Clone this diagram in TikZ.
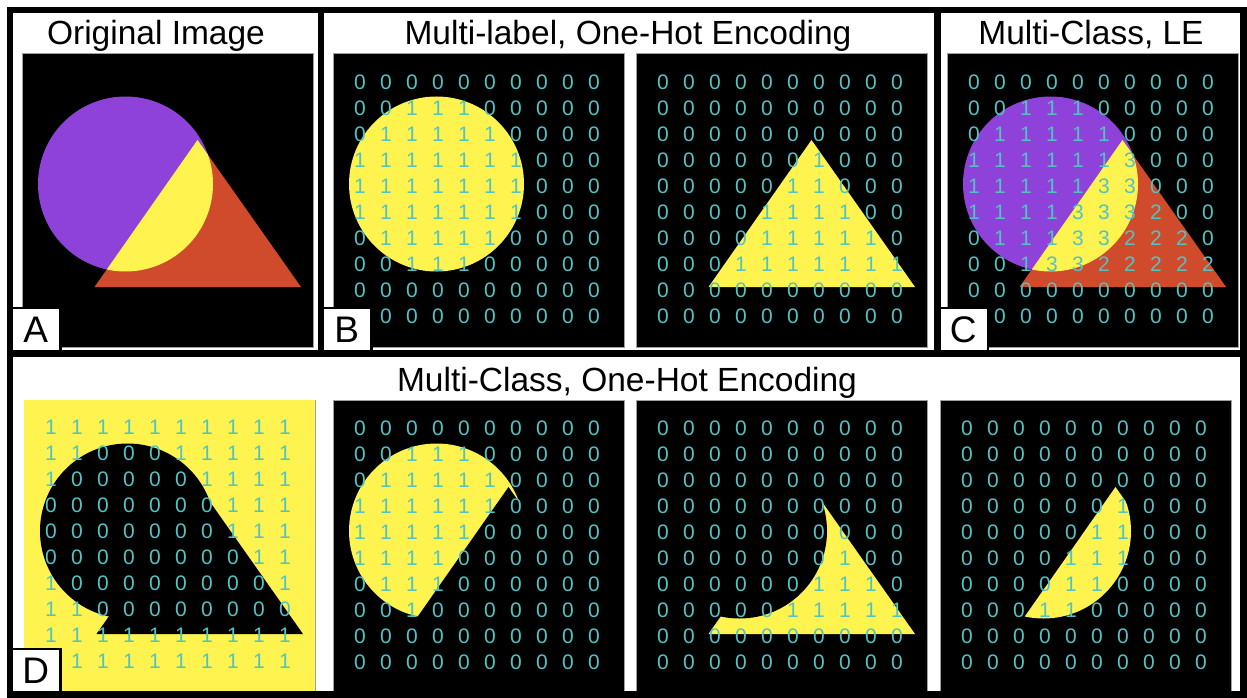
\documentclass[tikz,border=0pt]{standalone}
\usepackage{fontspec}
\setmainfont{Liberation Sans}
\usetikzlibrary{positioning}
\definecolor{maskyellow}{HTML}{FFF44F}
\definecolor{circpurple}{HTML}{8E42D9}
\definecolor{trired}{HTML}{CF4B2B}
\definecolor{digitteal}{HTML}{52C3C3}
\definecolor{edgegray}{HTML}{A0A0A0}

\tikzset{
  panelline/.style={line width=6.5pt},
  maskbox/.style={draw=edgegray, line width=1pt, fill=black, anchor=north west,
    inner sep=0pt, minimum width=291pt},
  heading/.style={font=\fontsize{33.5}{36}\selectfont, anchor=base},
  digit/.style={font=\fontsize{21}{21}\selectfont, text=digitteal, inner sep=0pt},
  tag/.style={draw, fill=white, line width=2.5pt, anchor=south west, inner sep=0pt,
    minimum width=49pt, minimum height=44.5pt, font=\fontsize{37}{37}\selectfont},
}

% circle and triangle, measured from the top-left corner of a mask
\newcommand{\fillcircle}[1]{\fill[#1] (103.5,131) circle[radius=87.5pt];}
\newcommand{\filltriangle}[1]{\fill[#1] (175.5,87) -- (279,234) -- (72.5,234) -- cycle;}
\newcommand{\clipcircle}{\clip (103.5,131) circle[radius=87.5pt];}

% 10x10 label values over a mask: #1 mask node, #2 first row offset, #3 rows
\newcommand{\digitgrid}[3]{%
  \foreach \row [count=\ri from 0] in {#3}
    \foreach \val [count=\ci from 0] in \row
      \node[digit] (#1-\ri-\ci) at ([shift={(27+26*\ci,#2+26*\ri)}]#1.north west) {\val};
}

\begin{document}
\begin{tikzpicture}[x=1pt, y=-1pt]
\useasboundingbox (0,0) rectangle (1247,698);
\fill[white] (0,0) rectangle (1247,698);

% headings
\node[heading] (headA) at (156,45) {Original Image};
\node[heading] (headB) at (628,45) {Multi-label, One-Hot Encoding};
\node[heading] (headC) at (1091,45) {Multi-Class, LE};
\node[heading] (headD) at (627,391) {Multi-Class, One-Hot Encoding};

% masks, top row
\node[maskbox, minimum height=294pt] (imgA)  at (22,53)  {};
\node[maskbox, minimum height=294pt] (imgB1) at (333,53) {};
\node[maskbox, minimum height=294pt] (imgB2) at (636,53) {};
\node[maskbox, minimum height=294pt] (imgC)  at (947,53) {};
% masks, bottom row
\node[maskbox, minimum height=291pt] (imgD1) at (24,400)  {};
\node[maskbox, minimum height=291pt] (imgD2) at (333,400) {};
\node[maskbox, minimum height=291pt] (imgD3) at (636,400) {};
\node[maskbox, minimum height=291pt] (imgD4) at (940,400) {};

% original image: circle, triangle and their overlap
\begin{scope}[shift={(imgA.north west)}]
  \fillcircle{circpurple}
  \filltriangle{trired}
  \begin{scope}\clipcircle\filltriangle{maskyellow}\end{scope}
\end{scope}
\begin{scope}[shift={(imgC.north west)}]
  \fillcircle{circpurple}
  \filltriangle{trired}
  \begin{scope}\clipcircle\filltriangle{maskyellow}\end{scope}
\end{scope}
% multi-label channels
\begin{scope}[shift={(imgB1.north west)}]\fillcircle{maskyellow}\end{scope}
\begin{scope}[shift={(imgB2.north west)}]\filltriangle{maskyellow}\end{scope}
% multi-class channels: background, circle only, triangle only, overlap
\begin{scope}[shift={(imgD1.north west)}]
  \fill[maskyellow] (0,0) rectangle (291,291);
  \fillcircle{black}
  \filltriangle{black}
\end{scope}
\begin{scope}[shift={(imgD2.north west)}]
  \fillcircle{maskyellow}
  \filltriangle{black}
\end{scope}
\begin{scope}[shift={(imgD3.north west)}]
  \filltriangle{maskyellow}
  \fillcircle{black}
\end{scope}
\begin{scope}[shift={(imgD4.north west)}]
  \clipcircle\filltriangle{maskyellow}
\end{scope}

% label values
\digitgrid{imgB1}{29}{
  {0,0,0,0,0,0,0,0,0,0},{0,0,1,1,1,0,0,0,0,0},{0,1,1,1,1,1,0,0,0,0},
  {1,1,1,1,1,1,1,0,0,0},{1,1,1,1,1,1,1,0,0,0},{1,1,1,1,1,1,1,0,0,0},
  {0,1,1,1,1,1,0,0,0,0},{0,0,1,1,1,0,0,0,0,0},{0,0,0,0,0,0,0,0,0,0},
  {0,0,0,0,0,0,0,0,0,0}}
\digitgrid{imgB2}{29}{
  {0,0,0,0,0,0,0,0,0,0},{0,0,0,0,0,0,0,0,0,0},{0,0,0,0,0,0,0,0,0,0},
  {0,0,0,0,0,0,1,0,0,0},{0,0,0,0,0,1,1,0,0,0},{0,0,0,0,1,1,1,1,0,0},
  {0,0,0,0,1,1,1,1,1,0},{0,0,0,1,1,1,1,1,1,1},{0,0,0,0,0,0,0,0,0,0},
  {0,0,0,0,0,0,0,0,0,0}}
\digitgrid{imgC}{29}{
  {0,0,0,0,0,0,0,0,0,0},{0,0,1,1,1,0,0,0,0,0},{0,1,1,1,1,1,0,0,0,0},
  {1,1,1,1,1,1,3,0,0,0},{1,1,1,1,1,3,3,0,0,0},{1,1,1,1,3,3,3,2,0,0},
  {0,1,1,1,3,3,2,2,2,0},{0,0,1,3,3,2,2,2,2,2},{0,0,0,0,0,0,0,0,0,0},
  {0,0,0,0,0,0,0,0,0,0}}
\digitgrid{imgD1}{27}{
  {1,1,1,1,1,1,1,1,1,1},{1,1,0,0,0,1,1,1,1,1},{1,0,0,0,0,0,1,1,1,1},
  {0,0,0,0,0,0,0,1,1,1},{0,0,0,0,0,0,0,1,1,1},{0,0,0,0,0,0,0,0,1,1},
  {1,0,0,0,0,0,0,0,0,1},{1,1,0,0,0,0,0,0,0,0},{1,1,1,1,1,1,1,1,1,1},
  {1,1,1,1,1,1,1,1,1,1}}
\digitgrid{imgD2}{28}{
  {0,0,0,0,0,0,0,0,0,0},{0,0,1,1,1,0,0,0,0,0},{0,1,1,1,1,1,0,0,0,0},
  {1,1,1,1,1,1,0,0,0,0},{1,1,1,1,1,0,0,0,0,0},{1,1,1,1,0,0,0,0,0,0},
  {0,1,1,1,0,0,0,0,0,0},{0,0,1,0,0,0,0,0,0,0},{0,0,0,0,0,0,0,0,0,0},
  {0,0,0,0,0,0,0,0,0,0}}
\digitgrid{imgD3}{28}{
  {0,0,0,0,0,0,0,0,0,0},{0,0,0,0,0,0,0,0,0,0},{0,0,0,0,0,0,0,0,0,0},
  {0,0,0,0,0,0,0,0,0,0},{0,0,0,0,0,0,0,0,0,0},{0,0,0,0,0,0,0,1,0,0},
  {0,0,0,0,0,0,1,1,1,0},{0,0,0,0,0,1,1,1,1,1},{0,0,0,0,0,0,0,0,0,0},
  {0,0,0,0,0,0,0,0,0,0}}
\digitgrid{imgD4}{28}{
  {0,0,0,0,0,0,0,0,0,0},{0,0,0,0,0,0,0,0,0,0},{0,0,0,0,0,0,0,0,0,0},
  {0,0,0,0,0,0,1,0,0,0},{0,0,0,0,0,1,1,0,0,0},{0,0,0,0,1,1,1,0,0,0},
  {0,0,0,0,1,1,0,0,0,0},{0,0,0,1,1,0,0,0,0,0},{0,0,0,0,0,0,0,0,0,0},
  {0,0,0,0,0,0,0,0,0,0}}

% panel letters
\node[tag] (tagA) at (10,353.5)   {A};
\node[tag] (tagB) at (321,353.5)  {B};
\node[tag] (tagC) at (937.5,353.5) {C};
\node[tag] (tagD) at (10,694.5)   {D};

% panel frame
\draw[panelline] (10,10) rectangle (1243.5,694.5);
\draw[panelline] (10,353.5) -- (1243.5,353.5);
\draw[panelline] (321,10) -- (321,353.5);
\draw[panelline] (937.5,10) -- (937.5,353.5);
\end{tikzpicture}
\end{document}
